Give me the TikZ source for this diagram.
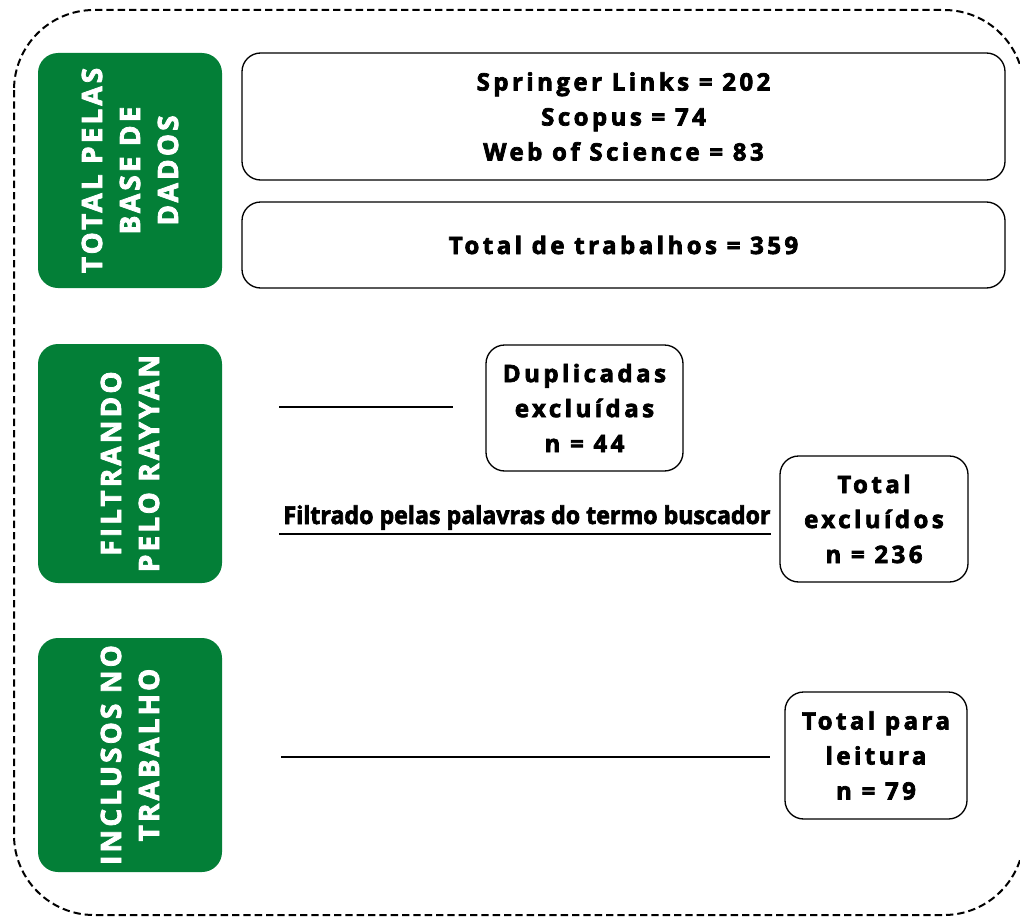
\documentclass[tikz,border=0pt]{standalone}
\usepackage{fontspec}
\setmainfont{Open Sans}
\newfontfamily\widefont{Open Sans}[LetterSpace=14.5,BoldFeatures={FakeBold=3}]
\newfontfamily\greenfont{Open Sans}[LetterSpace=11,BoldFeatures={FakeBold=2.8}]
\newfontfamily\condfont{Open Sans}[FakeStretch=0.94,BoldFeatures={FakeBold=2.6}]
\definecolor{grn}{RGB}{3,127,55}
\begin{document}
\begin{tikzpicture}[x=0.75pt,y=-0.75pt,
  greenbox/.style={fill=grn, draw=none, rounded corners=15pt, minimum width=138pt, inner sep=0pt},
  greentext/.style={text=white, rotate=90, align=center, inner sep=0pt, font=\greenfont\bfseries\fontsize{21}{28.5}\selectfont},
  whitebox/.style={draw=black, line width=1pt, fill=white, rounded corners=14pt, align=center, inner sep=0pt, font=\widefont\bfseries\fontsize{18}{26.25}\selectfont},
  connector/.style={draw=black, line width=2.1pt},
  frame/.style={draw=black, line width=1.5pt, dash pattern=on 5.5pt off 3pt, rounded corners=60pt}
]
\useasboundingbox (0,0) rectangle (1020,917);
\draw[frame] (14,10) rectangle (1024,915);

% green section boxes
\node[greenbox, minimum height=176.25pt] (g1) at (130,170.5) {};
\node[greentext] (g1t) at (g1.center) {TOTAL PELAS\\BASE DE\\DADOS};
\node[greenbox, minimum height=179.25pt] (g2) at (130,463.5) {};
\node[greentext] (g2t) at (g2.center) {FILTRANDO\\PELO RAYYAN};
\node[greenbox, minimum height=175.5pt] (g3) at (130,755) {};
\node[greentext] (g3t) at (g3.center) {INCLUSOS NO\\TRABALHO};

% white boxes
\node[whitebox, minimum width=572.25pt, minimum height=95.25pt] (bases) at (623.5,116.5) {Springer Links = 202\\Scopus = 74\\Web of Science = 83};
\node[whitebox, minimum width=572.25pt, minimum height=64.5pt] (total) at (623.5,245) {Total de trabalhos = 359};
\node[whitebox, minimum width=147.75pt, minimum height=94.5pt] (dup) at (584.5,408) {Duplicadas\\exclu\'idas\\n = 44};
\node[whitebox, minimum width=141pt, minimum height=94.5pt] (excl) at (874,519) {Total\\exclu\'idos\\n = 236};
\node[whitebox, minimum width=136.5pt, minimum height=95.25pt] (leit) at (876,755.5) {Total para\\leitura\\n = 79};

% connectors
\coordinate (l1a) at (279,407);
\coordinate (l1b) at (453,407);
\coordinate (l2a) at (279,534);
\coordinate (l2b) at (771,534);
\coordinate (l3a) at (281,757);
\coordinate (l3b) at (770,757);
\draw[connector] (l1a) -- (l1b);
\draw[connector] (l2a) -- (l2b);
\draw[connector] (l3a) -- (l3b);
\node[anchor=base, inner sep=0pt, font=\condfont\bfseries\fontsize{18.5}{20}\selectfont] (filt) at (527,524) {Filtrado pelas palavras do termo buscador};
\end{tikzpicture}
\end{document}
